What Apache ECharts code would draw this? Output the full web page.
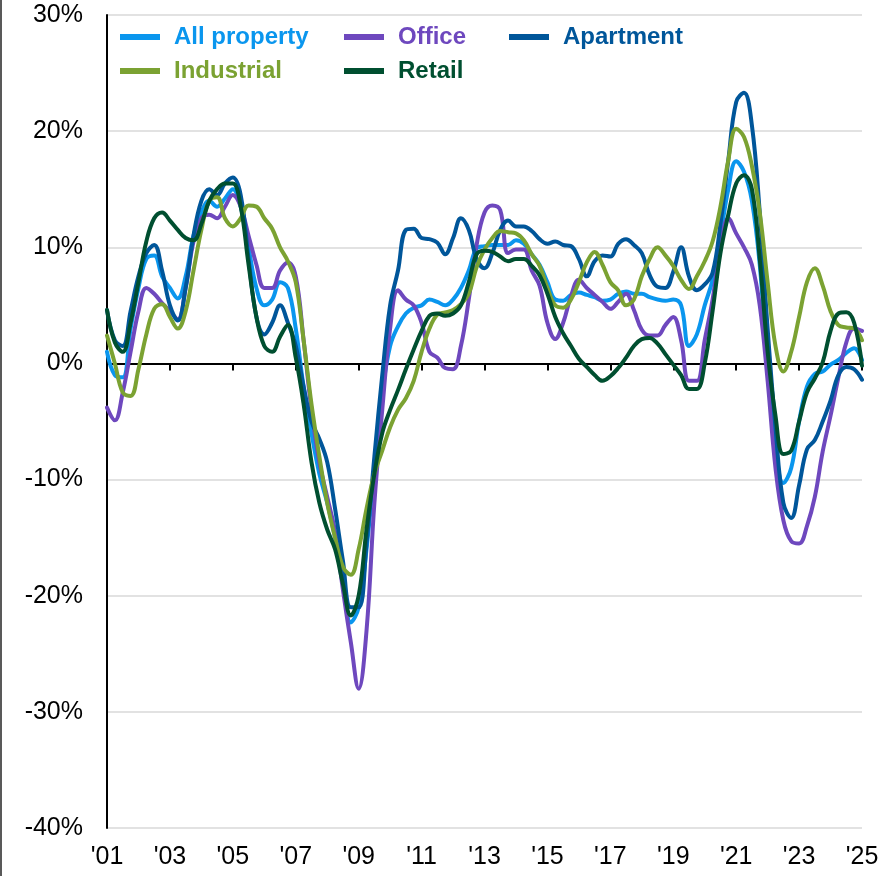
<!DOCTYPE html>
<html>
<head>
<meta charset="utf-8">
<script src="https://cdn.jsdelivr.net/npm/echarts@6/dist/echarts.min.js"></script>
<style>
  html, body { margin: 0; padding: 0; background: #fff; }
  #chart { width: 883px; height: 876px; }
  #edge { position: absolute; left: 0; top: 0; width: 2px; height: 876px; background: #595959; }
</style>
</head>
<body>
<div id="chart"></div>
<div id="edge"></div>
<script>
// quarterly, 2001Q1 .. 2025Q1, values in %
const allProperty = [
  1.0, -1.0, -1.2, 3.0, 6.5, 9.0, 9.3, 7.5, 6.5, 5.6, 7.5, 11.0, 13.0, 14.0, 13.5, 14.2,
  15.0, 13.5, 10.0, 6.5, 5.0, 5.5, 7.0, 6.5, 3.0, -2.0, -6.0, -9.5, -12.0, -15.0, -18.5, -22.3,
  -21.0, -16.0, -9.0, -2.5, 1.5, 3.2, 4.3, 4.8, 5.0, 5.5, 5.3, 5.0, 5.5, 6.5, 8.0, 9.9,
  10.1, 10.2, 10.2, 10.2, 10.6, 10.3, 9.4, 8.5, 7.0, 5.5, 5.4, 5.9, 6.1, 5.9, 5.7, 5.4,
  5.5, 6.0, 6.2, 6.0, 6.0, 5.7, 5.5, 5.4, 5.5, 5.0, 1.5, 2.5, 5.0, 7.2, 11.0, 15.0,
  17.4, 16.5, 14.0, 8.5, -0.5, -7.3, -10.3, -9.0, -5.0, -2.0, -0.9, -0.7, -0.1, 0.3, 0.9, 1.3,
  0.3
];
const office = [
  -3.8, -4.9, -2.5, 1.0, 4.5, 6.5, 6.0, 5.2, 4.5, 3.8, 6.5, 10.5, 12.5, 12.8, 12.5, 13.5,
  14.5, 13.5, 11.0, 8.5, 6.5, 6.5, 8.0, 8.7, 7.5, 2.0, -4.0, -8.5, -11.5, -14.5, -19.5, -24.0,
  -28.0, -23.0, -12.0, -4.0, 3.0, 6.3, 5.5, 5.0, 3.5, 1.0, 0.5, -0.4, -0.5, 1.5, 5.5, 10.2,
  13.0, 13.6, 13.2, 9.5, 9.8, 9.8, 8.0, 6.7, 3.5, 2.1, 3.5, 5.8, 7.2, 6.5, 5.9, 5.3,
  4.7, 5.3, 6.0, 4.6, 2.9, 2.4, 2.4, 3.3, 4.0, 2.0, -1.5, -1.5, 2.0, 5.5, 10.0, 12.5,
  11.2, 10.0, 8.5, 5.0, -1.5, -9.0, -13.5, -15.3, -15.5, -14.0, -11.5, -7.6, -4.5, -1.2, 1.8, 3.0,
  2.8
];
const apartment = [
  4.6, 2.0, 1.5, 4.5, 7.5, 9.5, 10.2, 8.0, 5.0, 3.7, 6.5, 11.0, 14.0, 15.0, 14.5, 15.5,
  16.0, 14.5, 9.0, 4.0, 2.5, 3.5, 5.0, 3.5, 1.5, -2.0, -5.0, -6.5, -8.5, -12.5, -17.0, -21.0,
  -21.0, -15.5, -8.0, -1.0, 5.0, 8.0, 11.5, 11.6, 10.8, 10.7, 10.4, 9.4, 10.8, 12.5, 11.5, 9.0,
  8.2, 9.5, 11.5, 12.3, 11.8, 11.8, 11.4, 10.7, 10.3, 10.5, 10.2, 10.1, 9.0, 7.5, 8.8, 9.3,
  9.2, 10.3, 10.7, 10.2, 9.5, 7.6, 6.6, 6.5, 7.9, 10.0, 7.5, 6.3, 6.8, 7.8, 12.0, 17.5,
  22.5, 23.3, 20.5, 13.0, 3.0, -5.5, -12.0, -13.3, -10.5, -7.4, -6.6, -5.0, -3.2, -1.0, -0.3, -0.5,
  -1.4
];
const industrial = [
  2.4, 0.0, -2.5, -2.8, -0.5, 2.5, 4.7, 5.1, 4.0, 3.0, 4.5, 8.0, 11.5, 14.0, 14.3, 12.5,
  11.8, 12.5, 13.6, 13.5, 12.5, 11.6, 10.0, 8.8, 7.0, 2.0, -3.5, -8.0, -12.0, -15.0, -17.5, -18.2,
  -16.0, -12.5, -9.5, -7.5, -5.5, -4.0, -3.0, -1.5, 1.0, 3.0, 4.2, 4.4, 4.6, 5.1, 6.0, 8.3,
  9.8, 10.8, 11.4, 11.3, 11.2, 10.6, 9.4, 8.4, 6.5, 5.0, 4.8, 5.5, 7.0, 8.7, 9.6, 8.5,
  7.0, 6.3, 5.0, 5.5, 7.5, 9.0, 10.0, 9.3, 8.4, 7.2, 6.4, 7.5, 8.8, 10.5, 13.5, 17.5,
  20.2, 19.5, 17.0, 13.0, 7.0, 1.5, -0.7, 1.0, 4.0, 7.0, 8.2, 6.7, 4.5, 3.3, 3.1, 3.0,
  2.0
];
const retail = [
  4.6, 1.8, 1.0, 3.5, 7.0, 10.5, 12.5, 13.0, 12.3, 11.5, 10.8, 10.6, 12.0, 14.0, 15.0, 15.5,
  15.5, 13.5, 8.5, 4.0, 1.5, 1.0, 2.3, 3.3, 0.5, -3.5, -8.5, -12.0, -14.3, -16.0, -19.0, -21.7,
  -20.0, -14.3, -9.5, -6.0, -4.0, -2.3, -0.5, 1.2, 2.8, 4.1, 4.3, 4.1, 4.3, 5.0, 7.0, 9.4,
  9.7, 9.6, 9.2, 8.8, 9.0, 9.0, 8.4, 7.6, 6.0, 4.0, 2.6, 1.5, 0.4, -0.3, -1.0, -1.5,
  -1.1, -0.4, 0.5, 1.5, 2.1, 2.2, 1.7, 0.8, -0.1, -1.0, -2.2, -2.2, 0.0, 4.5, 9.5, 12.8,
  15.5, 16.2, 15.0, 9.0, 1.0, -4.5, -7.8, -7.5, -5.0, -2.5, -1.3, 0.1, 2.8, 4.3, 4.4, 3.5,
  -0.2
];

const seriesNames = ['All property', 'Office', 'Apartment', 'Industrial', 'Retail'];
const seriesColors = ['#0A96EE', '#6E48BE', '#00569A', '#7BA232', '#004F30'];
const seriesData = [allProperty, office, apartment, industrial, retail];

const quarters = [];
for (let y = 2001; y <= 2025; y++) {
  for (let q = 1; q <= 4; q++) {
    if (y === 2025 && q > 1) break;
    quarters.push(y + 'Q' + q);
  }
}

const legendPos = [
  { left: 120, top: 24 },
  { left: 344, top: 24 },
  { left: 509, top: 24 },
  { left: 120, top: 58 },
  { left: 344, top: 58 }
];

const chart = echarts.init(document.getElementById('chart'));

const option = {
  animation: false,
  grid: { left: 107, top: 15, width: 755, height: 813, containLabel: false },
  legend: seriesNames.map((n, i) => ({
    data: [{ name: n, textStyle: { color: seriesColors[i] } }],
    left: legendPos[i].left,
    top: legendPos[i].top,
    padding: 0,
    icon: 'rect',
    itemWidth: 40,
    itemHeight: 6,
    selectedMode: false,
    textStyle: {
      fontFamily: 'Liberation Sans, Arial, sans-serif',
      fontSize: 24,
      fontWeight: 'bold',
      lineHeight: 26,
      padding: [0, 0, 0, 9]
    }
  })),
  xAxis: [
    {
      type: 'category',
      data: quarters,
      boundaryGap: false,
      axisLine: { onZero: true, lineStyle: { color: '#000', width: 2 } },
      axisTick: { show: true, interval: 7, length: 7, lineStyle: { color: '#000', width: 2 } },
      axisLabel: { show: false },
      splitLine: { show: false }
    },
    {
      type: 'category',
      data: quarters,
      boundaryGap: false,
      position: 'bottom',
      axisLine: { show: false, onZero: false },
      axisTick: { show: false },
      splitLine: { show: false },
      axisLabel: {
        interval: 7,
        margin: 17,
        color: '#000',
        fontSize: 25,
        fontFamily: 'Liberation Sans, Arial, sans-serif',
        formatter: v => "'" + v.slice(2, 4)
      }
    }
  ],
  yAxis: {
    type: 'value',
    min: -40,
    max: 30,
    interval: 10,
    axisLine: { show: true, lineStyle: { color: '#000', width: 2 } },
    axisTick: { show: false },
    axisLabel: {
      margin: 24,
      color: '#000',
      fontSize: 25,
      fontFamily: 'Liberation Sans, Arial, sans-serif',
      formatter: '{value}%'
    },
    splitLine: { lineStyle: { color: '#d9d9d9', width: 1.5 } }
  },
  series: seriesNames.map((n, i) => ({
    name: n,
    type: 'line',
    xAxisIndex: 0,
    data: seriesData[i],
    smooth: 0.4,
    showSymbol: false,
    color: seriesColors[i],
    lineStyle: { width: 4, color: seriesColors[i], join: 'round', cap: 'round' }
  }))
};

chart.setOption(option);
</script>
</body>
</html>
